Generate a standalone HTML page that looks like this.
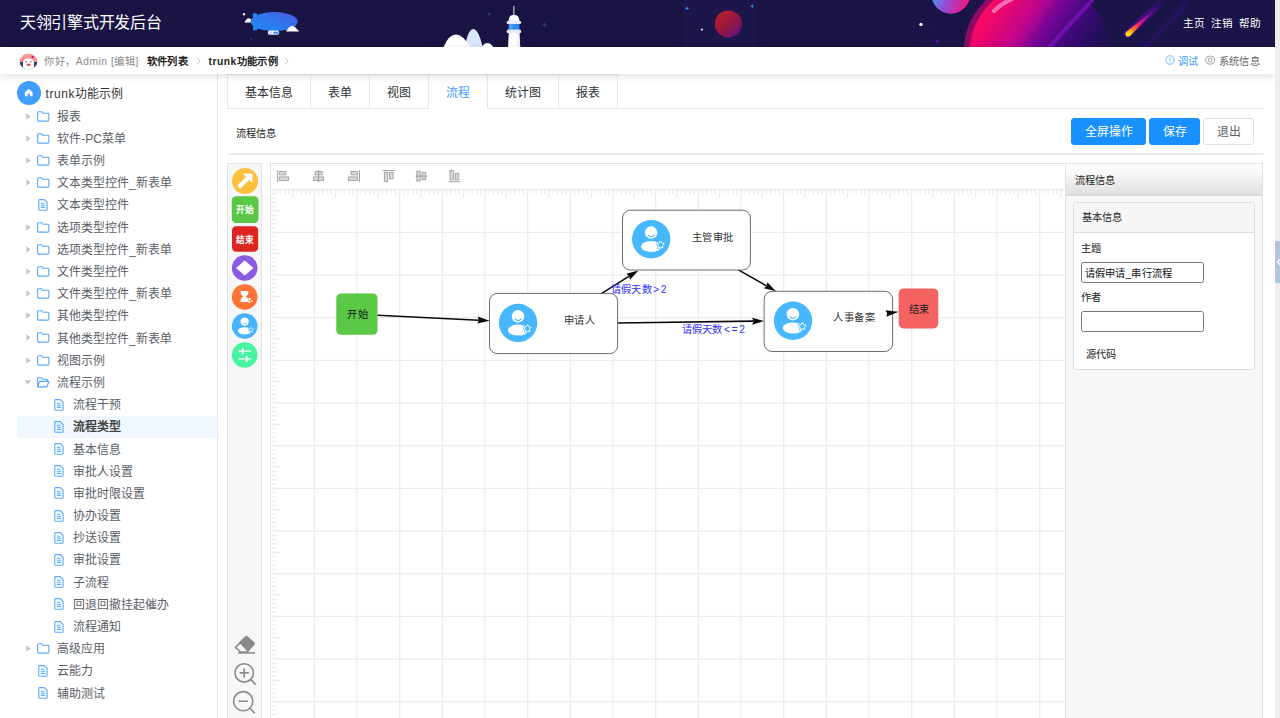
<!DOCTYPE html>
<html lang="zh-CN">
<head>
<meta charset="utf-8">
<title>天翎引擎式开发后台</title>
<style>
*{box-sizing:border-box;margin:0;padding:0}
html,body{width:1280px;height:718px;overflow:hidden;background:#fff;font-family:"Liberation Sans",sans-serif;color:#333}
body{position:relative}
.abs{position:absolute}
/* right scrollbar band */
#band{position:absolute;left:1275px;top:0;width:5px;height:718px;background:#ededed;z-index:50}
#handle{position:absolute;left:1275px;top:241px;width:5px;height:42px;background:#b3c5dc;z-index:51}
/* header */
#hdr{position:absolute;left:0;top:0;width:1275px;height:47px;background:#1a1445;overflow:hidden}
#hdr .title{position:absolute;left:20px;top:0;line-height:45px;font-size:16px;letter-spacing:-0.27px;color:#fff;white-space:nowrap}
#hdr .nav{position:absolute;right:13.8px;top:0;line-height:47.6px;font-size:10.6px;letter-spacing:-0.1px;color:#fff;white-space:nowrap;word-spacing:3.6px}
/* breadcrumb */
#bc{position:absolute;left:0;top:47px;width:1275px;height:27px;background:#fff;box-shadow:0 2px 8px rgba(0,0,0,.13);z-index:5;font-size:10.24px;letter-spacing:0.22px;line-height:27px;white-space:nowrap}
#bc span{position:absolute;top:0.9px}
#bc .g{color:#888}
#bc .b{color:#222;font-weight:bold}
#bc .sep{color:#c0c4cc}
/* sidebar */
#side{position:absolute;left:0;top:74px;width:218px;height:644px;border-right:1px solid #e9e9e9;background:#fff}
.trow{position:absolute;left:0;width:217px;height:22.19px;line-height:22.19px;font-size:11.95px;color:#5a5e66;white-space:nowrap}
.trow .tx{position:absolute;top:0.7px}
.trow svg{position:absolute}
.trow.sel{background:#f0f7ff;left:17px;width:200px;font-weight:bold;color:#444}

.tab{font-size:11.95px;line-height:37.2px;text-align:center;white-space:nowrap}
.btn{top:118px;height:27px;line-height:27.4px;font-size:11.95px;text-align:center;border-radius:3px;white-space:nowrap}
.lab{letter-spacing:0.22px;font-size:10.24px;line-height:20px;color:#222;white-space:nowrap}
.inp{letter-spacing:0.22px;width:123px;height:20.5px;border:1px solid #777;border-radius:2.5px;background:#fff;font-size:10.24px;line-height:21px;padding-left:2.5px;color:#111;white-space:nowrap;overflow:hidden}
svg text{font-family:"Liberation Sans",sans-serif}
</style>
</head>
<body>
<div id="band"></div><div id="handle"><svg class="abs" style="left:0.8px;top:17px" width="5" height="8" viewBox="0 0 5 8"><path d="M4.6 0.8 L1.6 4 L4.6 7.2" fill="none" stroke="#fff" stroke-width="1.2"/></svg></div>
<div id="hdr">
<svg class="abs" style="left:0;top:0" width="1275" height="47" viewBox="0 0 1275 47">
<defs>
<linearGradient id="blimp" x1="0" y1="1" x2="1" y2="0"><stop offset="0" stop-color="#1f8cf8"/><stop offset="0.6" stop-color="#3373ea"/><stop offset="1" stop-color="#4a55e0"/></linearGradient>
<linearGradient id="redp" x1="0.15" y1="0.1" x2="0.85" y2="0.95"><stop offset="0" stop-color="#b91f2e"/><stop offset="0.5" stop-color="#96173f"/><stop offset="1" stop-color="#65137a"/></linearGradient>
<linearGradient id="smallp" x1="0.1" y1="0.4" x2="0.95" y2="0.75"><stop offset="0" stop-color="#4f8ff7"/><stop offset="0.45" stop-color="#9a48cf"/><stop offset="1" stop-color="#f2157f"/></linearGradient>
<linearGradient id="bigp" gradientUnits="userSpaceOnUse" x1="975" y1="0" x2="1080" y2="70"><stop offset="0" stop-color="#ff0a62"/><stop offset="0.2" stop-color="#f00869"/><stop offset="0.45" stop-color="#bc0590"/><stop offset="0.57" stop-color="#7d0598"/><stop offset="0.75" stop-color="#46097e"/><stop offset="0.9" stop-color="#2c0d66"/><stop offset="1" stop-color="#231054"/></linearGradient>
<linearGradient id="met" gradientUnits="userSpaceOnUse" x1="1126" y1="35.5" x2="1157" y2="7"><stop offset="0" stop-color="#fff000"/><stop offset="0.1" stop-color="#ffd400"/><stop offset="0.22" stop-color="#ff7a1a"/><stop offset="0.42" stop-color="#f21a5e"/><stop offset="0.7" stop-color="#8a129a"/><stop offset="1" stop-color="#4a1090"/></linearGradient>
<linearGradient id="met2" gradientUnits="userSpaceOnUse" x1="1127" y1="34" x2="1166" y2="-2"><stop offset="0" stop-color="#4a0c8c"/><stop offset="0.6" stop-color="#3a0f78"/><stop offset="1" stop-color="#2a1260" stop-opacity="0.3"/></linearGradient>
<clipPath id="hc"><rect x="0" y="0" width="1275" height="47"/></clipPath>
</defs>
<g clip-path="url(#hc)">
<!-- subtle lighter block -->
<rect x="683" y="0" width="73" height="47" fill="#1c164a"/>
<rect x="920" y="0" width="355" height="47" fill="#1b1448"/>
<!-- blimp -->
<circle cx="244" cy="14.3" r="1.2" fill="#e8ecf8"/>
<circle cx="251.4" cy="39" r="0.9" fill="#2c3f9a"/>
<path d="M244.5 22.6 Q246.5 18 249 18.2 Q251.5 18.5 252.5 22.6 Z" fill="#fff"/>
<path d="M252.5 13.6 L256.5 13.2 L259 17 L259 26 L256.5 30.4 L252.8 30 L253.8 24.5 L250.4 21.8 L253.8 19 Z" fill="#2488f5"/>
<ellipse cx="274.2" cy="21.5" rx="23.5" ry="9.5" fill="url(#blimp)"/>
<rect x="267.8" y="30.6" width="11.4" height="4.2" rx="1.8" fill="#f2f5ff"/>
<rect x="273.5" y="31.6" width="5" height="2.2" fill="#3d8ef5"/>
<rect x="269.2" y="31.6" width="2.6" height="2.2" fill="#bcd4fb"/>
<path d="M286 31.6 Q289 26 292 26 Q295.5 26.3 297 29.6 Q298.6 30 299 31.6 Z" fill="#fff"/>
<!-- clouds + lighthouse -->
<path d="M465 47 Q468 29 473.2 29 Q478.5 29 482.6 47 Z" fill="#d9e5ff"/>
<path d="M443.5 47 Q449 34.6 456 34.6 Q463 34.8 470 47 Z" fill="#fff"/>
<path d="M481.8 47 Q484.2 43 487.4 43 Q490.8 43.2 493.2 47 Z" fill="#fff"/>
<path d="M489 12.2 L489.6 13.6 L491 14.2 L489.6 14.8 L489 16.2 L488.4 14.8 L487 14.2 L488.4 13.6 Z" fill="#27478f"/>
<path d="M544.5 22 L545.4 23.9 L547.3 24.7 L545.4 25.5 L544.5 27.4 L543.6 25.5 L541.7 24.7 L543.6 23.9 Z" fill="#253f86"/>
<rect x="513.3" y="6" width="1.1" height="9.5" fill="#cfd6ea"/>
<path d="M508.6 21 Q508.8 14.7 513.9 14.7 Q519.2 14.7 519.4 21 Z" fill="#fff"/>
<path d="M508 47 L508.8 33 H519.3 L520.2 47 Z" fill="#fff"/>
<path d="M517 33 H519.3 L520.2 47 H517.6 Z" fill="#eceff7"/>
<rect x="508.8" y="23.5" width="10.6" height="6.4" fill="#2f8cf2"/>
<rect x="508.8" y="23.5" width="4" height="6.4" fill="#4a9cf5"/>
<rect x="506.6" y="20.7" width="14.6" height="3.4" rx="1.7" fill="#e3eafc"/>
<rect x="506.6" y="29.5" width="14.6" height="3.8" rx="1.9" fill="#e3eafc"/>
<!-- mid stars / red planet -->
<path d="M687 6.2 L687.7 7.7 L689.2 8.4 L687.7 9.1 L687 10.6 L686.3 9.1 L684.8 8.4 L686.3 7.7 Z" fill="#2e8ff0"/>
<path d="M752.2 4.2 L752.8 5.6 L754.2 6.2 L752.8 6.8 L752.2 8.2 L751.6 6.8 L750.2 6.2 L751.6 5.6 Z" fill="#2e8ff0"/>
<circle cx="701.9" cy="29.6" r="1.1" fill="#e6e6f0"/>
<circle cx="728.3" cy="23.9" r="13.5" fill="url(#redp)"/>
<!-- right planets -->
<circle cx="921" cy="24.4" r="1.7" fill="#fff"/>
<circle cx="937.6" cy="41.2" r="1.5" fill="#5b0aa6"/>
<circle cx="934.8" cy="27.6" r="1" fill="#3a1078"/>
<circle cx="950.8" cy="-5.6" r="19.3" fill="url(#smallp)"/>
<circle cx="1034.5" cy="51.4" r="70.7" fill="#8f0a63"/>
<circle cx="1040" cy="53" r="70.5" fill="url(#bigp)"/>
<path d="M994 11 Q1002 3 1012 -1" fill="none" stroke="#f46bb4" stroke-width="4.2" stroke-linecap="round"/>
<path d="M1047.5 49 L1094 -2" fill="none" stroke="#7410b4" stroke-width="4.2" opacity="0.9"/>
<!-- meteor -->
<path d="M1144 48 L1186 5" fill="none" stroke="#2a1164" stroke-width="6.5" stroke-linecap="round" opacity="0.75"/>
<path d="M1127.4 34 L1168 -4" fill="none" stroke="url(#met2)" stroke-width="7.6" stroke-linecap="round"/>
<path d="M1125.9 32.2 Q1124.6 35.2 1127 36.4 Q1129.2 37 1130.6 35.4 L1157.5 7 Z" fill="url(#met)"/>
</g>
</svg>

<div class="title">天翎引擎式开发后台</div>
<div class="nav">主页 注销 帮助</div>
</div>
<div id="bc">
<svg class="abs" style="left:19.2px;top:6px" width="19" height="16.9" viewBox="0 0 19 19" preserveAspectRatio="none">
<defs><linearGradient id="avg" x1="0" y1="0" x2="0" y2="1"><stop offset="0" stop-color="#f7a59b"/><stop offset="0.55" stop-color="#f4868c"/><stop offset="0.56" stop-color="#26427a"/><stop offset="1" stop-color="#1e3a6e"/></linearGradient>
<clipPath id="avc"><circle cx="9.5" cy="9.5" r="8.8"/></clipPath></defs>
<circle cx="9.5" cy="9.5" r="8.8" fill="url(#avg)"/>
<g clip-path="url(#avc)">
<path d="M4 19 V11 Q4 6.2 9.5 6.2 Q15 6.2 15 11 V19 Z" fill="#fff"/>
<circle cx="13.6" cy="4.6" r="1.3" fill="#c2185b"/>
<circle cx="7.1" cy="9.9" r="0.8" fill="#e5395a"/><circle cx="11.9" cy="9.9" r="0.8" fill="#e5395a"/>
<path d="M7.2 12.1 H11.8 Q11.8 14.6 9.5 14.6 Q7.2 14.6 7.2 12.1 Z" fill="#ee4d6a"/>
</g>
</svg>
<span class="g" style="left:44.2px;letter-spacing:0.55px">你好，Admin [编辑]</span>
<span class="b" style="left:147px">软件列表</span>
<svg class="abs" style="left:195.5px;top:10.2px" width="5" height="8" viewBox="0 0 5 8"><path d="M0.7 0.6 L4.2 4 L0.7 7.4" fill="none" stroke="#c0c4cc" stroke-width="0.9"/></svg>
<span class="b" style="left:208.5px"><i style="font-style:normal;letter-spacing:0.55px">trunk</i>功能示例</span>
<svg class="abs" style="left:283.5px;top:10.2px" width="5" height="8" viewBox="0 0 5 8"><path d="M0.7 0.6 L4.2 4 L0.7 7.4" fill="none" stroke="#c0c4cc" stroke-width="0.9"/></svg>
<svg class="abs" style="left:1164.5px;top:8.4px" width="10" height="10" viewBox="0 0 10 10"><circle cx="5" cy="5" r="4.2" fill="none" stroke="#66b1ff" stroke-width="0.9"/><path d="M5 2.5 V5.8 M5 6.8 V7.6" stroke="#66b1ff" stroke-width="0.9"/></svg>
<span style="left:1178px;color:#409eff">调试</span>
<svg class="abs" style="left:1205px;top:8.2px" width="10.4" height="10.4" viewBox="0 0 10.4 10.4"><path d="M5.2 0.8 L6.4 1.7 L7.9 1.5 L8.5 2.9 L9.8 3.7 L9.4 5.2 L9.8 6.7 L8.5 7.5 L7.9 8.9 L6.4 8.7 L5.2 9.6 L4 8.7 L2.5 8.9 L1.9 7.5 L0.6 6.7 L1 5.2 L0.6 3.7 L1.9 2.9 L2.5 1.5 L4 1.7 Z" fill="none" stroke="#8a8a8a" stroke-width="0.8"/><circle cx="5.2" cy="5.2" r="1.9" fill="none" stroke="#8a8a8a" stroke-width="0.8"/></svg>
<span style="left:1219px;color:#666">系统信息</span>

</div>
<div id="side">
<div class="abs" style="left:17px;top:7px;width:24px;height:24px;border-radius:50%;background:#409eff"><svg class="abs" style="left:7.3px;top:7.2px" width="9.4" height="9.4" viewBox="0 0 11 11"><path d="M5.5 1.2 L10 5 V9.8 H6.9 V6.8 H4.1 V9.8 H1 V5 Z" fill="#fff"/></svg></div>
<div class="abs" style="left:45.6px;top:8.6px;line-height:22px;font-size:11.95px;color:#333;white-space:nowrap"><i style="font-style:normal;letter-spacing:0.6px">trunk</i>功能示例</div>
<div class="trow" style="top:31.00px"><svg style="left:25.6px;top:7.6px" width="5" height="7" viewBox="0 0 5 7"><path d="M0.3 0.2 L4.6 3.5 L0.3 6.8 Z" fill="#c0c4cc"/></svg><svg style="left:37.3px;top:5.6px" width="12.5" height="11" viewBox="0 0 12.5 11"><path d="M0.6 1.6 Q0.6 0.8 1.4 0.8 H4.6 L5.8 2.3 H11 Q11.8 2.3 11.8 3.1 V9.3 Q11.8 10.1 11 10.1 H1.4 Q0.6 10.1 0.6 9.3 Z" fill="none" stroke="#5aaaff" stroke-width="1.1"/></svg><span class="tx" style="left:57.3px">报表</span></div>
<div class="trow" style="top:53.19px"><svg style="left:25.6px;top:7.6px" width="5" height="7" viewBox="0 0 5 7"><path d="M0.3 0.2 L4.6 3.5 L0.3 6.8 Z" fill="#c0c4cc"/></svg><svg style="left:37.3px;top:5.6px" width="12.5" height="11" viewBox="0 0 12.5 11"><path d="M0.6 1.6 Q0.6 0.8 1.4 0.8 H4.6 L5.8 2.3 H11 Q11.8 2.3 11.8 3.1 V9.3 Q11.8 10.1 11 10.1 H1.4 Q0.6 10.1 0.6 9.3 Z" fill="none" stroke="#5aaaff" stroke-width="1.1"/></svg><span class="tx" style="left:57.3px">软件-PC菜单</span></div>
<div class="trow" style="top:75.38px"><svg style="left:25.6px;top:7.6px" width="5" height="7" viewBox="0 0 5 7"><path d="M0.3 0.2 L4.6 3.5 L0.3 6.8 Z" fill="#c0c4cc"/></svg><svg style="left:37.3px;top:5.6px" width="12.5" height="11" viewBox="0 0 12.5 11"><path d="M0.6 1.6 Q0.6 0.8 1.4 0.8 H4.6 L5.8 2.3 H11 Q11.8 2.3 11.8 3.1 V9.3 Q11.8 10.1 11 10.1 H1.4 Q0.6 10.1 0.6 9.3 Z" fill="none" stroke="#5aaaff" stroke-width="1.1"/></svg><span class="tx" style="left:57.3px">表单示例</span></div>
<div class="trow" style="top:97.57px"><svg style="left:25.6px;top:7.6px" width="5" height="7" viewBox="0 0 5 7"><path d="M0.3 0.2 L4.6 3.5 L0.3 6.8 Z" fill="#c0c4cc"/></svg><svg style="left:37.3px;top:5.6px" width="12.5" height="11" viewBox="0 0 12.5 11"><path d="M0.6 1.6 Q0.6 0.8 1.4 0.8 H4.6 L5.8 2.3 H11 Q11.8 2.3 11.8 3.1 V9.3 Q11.8 10.1 11 10.1 H1.4 Q0.6 10.1 0.6 9.3 Z" fill="none" stroke="#5aaaff" stroke-width="1.1"/></svg><span class="tx" style="left:57.3px">文本类型控件_新表单</span></div>
<div class="trow" style="top:119.76px"><svg style="left:38.4px;top:5.2px" width="10" height="12" viewBox="0 0 10 12"><path d="M1.6 0.6 H6.2 L9.1 3.5 V10.4 Q9.1 11.2 8.3 11.2 H1.6 Q0.8 11.2 0.8 10.4 V1.4 Q0.8 0.6 1.6 0.6 Z" fill="none" stroke="#5aaaff" stroke-width="1.1"/><path d="M2.8 4.2 H6.6 M2.8 6.3 H7.2 M2.8 8.4 H7.2" stroke="#5aaaff" stroke-width="1.1"/></svg><span class="tx" style="left:57.3px">文本类型控件</span></div>
<div class="trow" style="top:141.95px"><svg style="left:25.6px;top:7.6px" width="5" height="7" viewBox="0 0 5 7"><path d="M0.3 0.2 L4.6 3.5 L0.3 6.8 Z" fill="#c0c4cc"/></svg><svg style="left:37.3px;top:5.6px" width="12.5" height="11" viewBox="0 0 12.5 11"><path d="M0.6 1.6 Q0.6 0.8 1.4 0.8 H4.6 L5.8 2.3 H11 Q11.8 2.3 11.8 3.1 V9.3 Q11.8 10.1 11 10.1 H1.4 Q0.6 10.1 0.6 9.3 Z" fill="none" stroke="#5aaaff" stroke-width="1.1"/></svg><span class="tx" style="left:57.3px">选项类型控件</span></div>
<div class="trow" style="top:164.14px"><svg style="left:25.6px;top:7.6px" width="5" height="7" viewBox="0 0 5 7"><path d="M0.3 0.2 L4.6 3.5 L0.3 6.8 Z" fill="#c0c4cc"/></svg><svg style="left:37.3px;top:5.6px" width="12.5" height="11" viewBox="0 0 12.5 11"><path d="M0.6 1.6 Q0.6 0.8 1.4 0.8 H4.6 L5.8 2.3 H11 Q11.8 2.3 11.8 3.1 V9.3 Q11.8 10.1 11 10.1 H1.4 Q0.6 10.1 0.6 9.3 Z" fill="none" stroke="#5aaaff" stroke-width="1.1"/></svg><span class="tx" style="left:57.3px">选项类型控件_新表单</span></div>
<div class="trow" style="top:186.33px"><svg style="left:25.6px;top:7.6px" width="5" height="7" viewBox="0 0 5 7"><path d="M0.3 0.2 L4.6 3.5 L0.3 6.8 Z" fill="#c0c4cc"/></svg><svg style="left:37.3px;top:5.6px" width="12.5" height="11" viewBox="0 0 12.5 11"><path d="M0.6 1.6 Q0.6 0.8 1.4 0.8 H4.6 L5.8 2.3 H11 Q11.8 2.3 11.8 3.1 V9.3 Q11.8 10.1 11 10.1 H1.4 Q0.6 10.1 0.6 9.3 Z" fill="none" stroke="#5aaaff" stroke-width="1.1"/></svg><span class="tx" style="left:57.3px">文件类型控件</span></div>
<div class="trow" style="top:208.52px"><svg style="left:25.6px;top:7.6px" width="5" height="7" viewBox="0 0 5 7"><path d="M0.3 0.2 L4.6 3.5 L0.3 6.8 Z" fill="#c0c4cc"/></svg><svg style="left:37.3px;top:5.6px" width="12.5" height="11" viewBox="0 0 12.5 11"><path d="M0.6 1.6 Q0.6 0.8 1.4 0.8 H4.6 L5.8 2.3 H11 Q11.8 2.3 11.8 3.1 V9.3 Q11.8 10.1 11 10.1 H1.4 Q0.6 10.1 0.6 9.3 Z" fill="none" stroke="#5aaaff" stroke-width="1.1"/></svg><span class="tx" style="left:57.3px">文件类型控件_新表单</span></div>
<div class="trow" style="top:230.71px"><svg style="left:25.6px;top:7.6px" width="5" height="7" viewBox="0 0 5 7"><path d="M0.3 0.2 L4.6 3.5 L0.3 6.8 Z" fill="#c0c4cc"/></svg><svg style="left:37.3px;top:5.6px" width="12.5" height="11" viewBox="0 0 12.5 11"><path d="M0.6 1.6 Q0.6 0.8 1.4 0.8 H4.6 L5.8 2.3 H11 Q11.8 2.3 11.8 3.1 V9.3 Q11.8 10.1 11 10.1 H1.4 Q0.6 10.1 0.6 9.3 Z" fill="none" stroke="#5aaaff" stroke-width="1.1"/></svg><span class="tx" style="left:57.3px">其他类型控件</span></div>
<div class="trow" style="top:252.90px"><svg style="left:25.6px;top:7.6px" width="5" height="7" viewBox="0 0 5 7"><path d="M0.3 0.2 L4.6 3.5 L0.3 6.8 Z" fill="#c0c4cc"/></svg><svg style="left:37.3px;top:5.6px" width="12.5" height="11" viewBox="0 0 12.5 11"><path d="M0.6 1.6 Q0.6 0.8 1.4 0.8 H4.6 L5.8 2.3 H11 Q11.8 2.3 11.8 3.1 V9.3 Q11.8 10.1 11 10.1 H1.4 Q0.6 10.1 0.6 9.3 Z" fill="none" stroke="#5aaaff" stroke-width="1.1"/></svg><span class="tx" style="left:57.3px">其他类型控件_新表单</span></div>
<div class="trow" style="top:275.09px"><svg style="left:25.6px;top:7.6px" width="5" height="7" viewBox="0 0 5 7"><path d="M0.3 0.2 L4.6 3.5 L0.3 6.8 Z" fill="#c0c4cc"/></svg><svg style="left:37.3px;top:5.6px" width="12.5" height="11" viewBox="0 0 12.5 11"><path d="M0.6 1.6 Q0.6 0.8 1.4 0.8 H4.6 L5.8 2.3 H11 Q11.8 2.3 11.8 3.1 V9.3 Q11.8 10.1 11 10.1 H1.4 Q0.6 10.1 0.6 9.3 Z" fill="none" stroke="#5aaaff" stroke-width="1.1"/></svg><span class="tx" style="left:57.3px">视图示例</span></div>
<div class="trow" style="top:297.28px"><svg style="left:23.6px;top:9px" width="7.4" height="5" viewBox="0 0 7.4 5"><path d="M0.2 0.3 L7.2 0.3 L3.7 4.6 Z" fill="#c0c4cc"/></svg><svg style="left:37.3px;top:5.6px" width="12.5" height="11" viewBox="0 0 12.5 11"><path d="M0.6 9.6 V1.6 Q0.6 0.8 1.4 0.8 H4.4 L5.6 2.3 H9.6 Q10.4 2.3 10.4 3.1 V4.3 M0.7 9.9 L2.6 4.4 H11.9 L10 9.9 Z" fill="none" stroke="#4da3ff" stroke-width="1.1" stroke-linejoin="round"/></svg><span class="tx" style="left:57.3px">流程示例</span></div>
<div class="trow" style="top:319.47px"><svg style="left:54.0px;top:5.2px" width="10" height="12" viewBox="0 0 10 12"><path d="M1.6 0.6 H6.2 L9.1 3.5 V10.4 Q9.1 11.2 8.3 11.2 H1.6 Q0.8 11.2 0.8 10.4 V1.4 Q0.8 0.6 1.6 0.6 Z" fill="none" stroke="#5aaaff" stroke-width="1.1"/><path d="M2.8 4.2 H6.6 M2.8 6.3 H7.2 M2.8 8.4 H7.2" stroke="#5aaaff" stroke-width="1.1"/></svg><span class="tx" style="left:73px">流程干预</span></div>
<div class="trow sel" style="top:341.66px"><svg style="left:37.0px;top:5.2px" width="10" height="12" viewBox="0 0 10 12"><path d="M1.6 0.6 H6.2 L9.1 3.5 V10.4 Q9.1 11.2 8.3 11.2 H1.6 Q0.8 11.2 0.8 10.4 V1.4 Q0.8 0.6 1.6 0.6 Z" fill="none" stroke="#5aaaff" stroke-width="1.1"/><path d="M2.8 4.2 H6.6 M2.8 6.3 H7.2 M2.8 8.4 H7.2" stroke="#5aaaff" stroke-width="1.1"/></svg><span class="tx" style="left:56px">流程类型</span></div>
<div class="trow" style="top:363.85px"><svg style="left:54.0px;top:5.2px" width="10" height="12" viewBox="0 0 10 12"><path d="M1.6 0.6 H6.2 L9.1 3.5 V10.4 Q9.1 11.2 8.3 11.2 H1.6 Q0.8 11.2 0.8 10.4 V1.4 Q0.8 0.6 1.6 0.6 Z" fill="none" stroke="#5aaaff" stroke-width="1.1"/><path d="M2.8 4.2 H6.6 M2.8 6.3 H7.2 M2.8 8.4 H7.2" stroke="#5aaaff" stroke-width="1.1"/></svg><span class="tx" style="left:73px">基本信息</span></div>
<div class="trow" style="top:386.04px"><svg style="left:54.0px;top:5.2px" width="10" height="12" viewBox="0 0 10 12"><path d="M1.6 0.6 H6.2 L9.1 3.5 V10.4 Q9.1 11.2 8.3 11.2 H1.6 Q0.8 11.2 0.8 10.4 V1.4 Q0.8 0.6 1.6 0.6 Z" fill="none" stroke="#5aaaff" stroke-width="1.1"/><path d="M2.8 4.2 H6.6 M2.8 6.3 H7.2 M2.8 8.4 H7.2" stroke="#5aaaff" stroke-width="1.1"/></svg><span class="tx" style="left:73px">审批人设置</span></div>
<div class="trow" style="top:408.23px"><svg style="left:54.0px;top:5.2px" width="10" height="12" viewBox="0 0 10 12"><path d="M1.6 0.6 H6.2 L9.1 3.5 V10.4 Q9.1 11.2 8.3 11.2 H1.6 Q0.8 11.2 0.8 10.4 V1.4 Q0.8 0.6 1.6 0.6 Z" fill="none" stroke="#5aaaff" stroke-width="1.1"/><path d="M2.8 4.2 H6.6 M2.8 6.3 H7.2 M2.8 8.4 H7.2" stroke="#5aaaff" stroke-width="1.1"/></svg><span class="tx" style="left:73px">审批时限设置</span></div>
<div class="trow" style="top:430.42px"><svg style="left:54.0px;top:5.2px" width="10" height="12" viewBox="0 0 10 12"><path d="M1.6 0.6 H6.2 L9.1 3.5 V10.4 Q9.1 11.2 8.3 11.2 H1.6 Q0.8 11.2 0.8 10.4 V1.4 Q0.8 0.6 1.6 0.6 Z" fill="none" stroke="#5aaaff" stroke-width="1.1"/><path d="M2.8 4.2 H6.6 M2.8 6.3 H7.2 M2.8 8.4 H7.2" stroke="#5aaaff" stroke-width="1.1"/></svg><span class="tx" style="left:73px">协办设置</span></div>
<div class="trow" style="top:452.61px"><svg style="left:54.0px;top:5.2px" width="10" height="12" viewBox="0 0 10 12"><path d="M1.6 0.6 H6.2 L9.1 3.5 V10.4 Q9.1 11.2 8.3 11.2 H1.6 Q0.8 11.2 0.8 10.4 V1.4 Q0.8 0.6 1.6 0.6 Z" fill="none" stroke="#5aaaff" stroke-width="1.1"/><path d="M2.8 4.2 H6.6 M2.8 6.3 H7.2 M2.8 8.4 H7.2" stroke="#5aaaff" stroke-width="1.1"/></svg><span class="tx" style="left:73px">抄送设置</span></div>
<div class="trow" style="top:474.80px"><svg style="left:54.0px;top:5.2px" width="10" height="12" viewBox="0 0 10 12"><path d="M1.6 0.6 H6.2 L9.1 3.5 V10.4 Q9.1 11.2 8.3 11.2 H1.6 Q0.8 11.2 0.8 10.4 V1.4 Q0.8 0.6 1.6 0.6 Z" fill="none" stroke="#5aaaff" stroke-width="1.1"/><path d="M2.8 4.2 H6.6 M2.8 6.3 H7.2 M2.8 8.4 H7.2" stroke="#5aaaff" stroke-width="1.1"/></svg><span class="tx" style="left:73px">审批设置</span></div>
<div class="trow" style="top:496.99px"><svg style="left:54.0px;top:5.2px" width="10" height="12" viewBox="0 0 10 12"><path d="M1.6 0.6 H6.2 L9.1 3.5 V10.4 Q9.1 11.2 8.3 11.2 H1.6 Q0.8 11.2 0.8 10.4 V1.4 Q0.8 0.6 1.6 0.6 Z" fill="none" stroke="#5aaaff" stroke-width="1.1"/><path d="M2.8 4.2 H6.6 M2.8 6.3 H7.2 M2.8 8.4 H7.2" stroke="#5aaaff" stroke-width="1.1"/></svg><span class="tx" style="left:73px">子流程</span></div>
<div class="trow" style="top:519.18px"><svg style="left:54.0px;top:5.2px" width="10" height="12" viewBox="0 0 10 12"><path d="M1.6 0.6 H6.2 L9.1 3.5 V10.4 Q9.1 11.2 8.3 11.2 H1.6 Q0.8 11.2 0.8 10.4 V1.4 Q0.8 0.6 1.6 0.6 Z" fill="none" stroke="#5aaaff" stroke-width="1.1"/><path d="M2.8 4.2 H6.6 M2.8 6.3 H7.2 M2.8 8.4 H7.2" stroke="#5aaaff" stroke-width="1.1"/></svg><span class="tx" style="left:73px">回退回撤挂起催办</span></div>
<div class="trow" style="top:541.37px"><svg style="left:54.0px;top:5.2px" width="10" height="12" viewBox="0 0 10 12"><path d="M1.6 0.6 H6.2 L9.1 3.5 V10.4 Q9.1 11.2 8.3 11.2 H1.6 Q0.8 11.2 0.8 10.4 V1.4 Q0.8 0.6 1.6 0.6 Z" fill="none" stroke="#5aaaff" stroke-width="1.1"/><path d="M2.8 4.2 H6.6 M2.8 6.3 H7.2 M2.8 8.4 H7.2" stroke="#5aaaff" stroke-width="1.1"/></svg><span class="tx" style="left:73px">流程通知</span></div>
<div class="trow" style="top:563.56px"><svg style="left:25.6px;top:7.6px" width="5" height="7" viewBox="0 0 5 7"><path d="M0.3 0.2 L4.6 3.5 L0.3 6.8 Z" fill="#c0c4cc"/></svg><svg style="left:37.3px;top:5.6px" width="12.5" height="11" viewBox="0 0 12.5 11"><path d="M0.6 1.6 Q0.6 0.8 1.4 0.8 H4.6 L5.8 2.3 H11 Q11.8 2.3 11.8 3.1 V9.3 Q11.8 10.1 11 10.1 H1.4 Q0.6 10.1 0.6 9.3 Z" fill="none" stroke="#5aaaff" stroke-width="1.1"/></svg><span class="tx" style="left:57.3px">高级应用</span></div>
<div class="trow" style="top:585.75px"><svg style="left:38.4px;top:5.2px" width="10" height="12" viewBox="0 0 10 12"><path d="M1.6 0.6 H6.2 L9.1 3.5 V10.4 Q9.1 11.2 8.3 11.2 H1.6 Q0.8 11.2 0.8 10.4 V1.4 Q0.8 0.6 1.6 0.6 Z" fill="none" stroke="#5aaaff" stroke-width="1.1"/><path d="M2.8 4.2 H6.6 M2.8 6.3 H7.2 M2.8 8.4 H7.2" stroke="#5aaaff" stroke-width="1.1"/></svg><span class="tx" style="left:57.3px">云能力</span></div>
<div class="trow" style="top:607.94px"><svg style="left:38.4px;top:5.2px" width="10" height="12" viewBox="0 0 10 12"><path d="M1.6 0.6 H6.2 L9.1 3.5 V10.4 Q9.1 11.2 8.3 11.2 H1.6 Q0.8 11.2 0.8 10.4 V1.4 Q0.8 0.6 1.6 0.6 Z" fill="none" stroke="#5aaaff" stroke-width="1.1"/><path d="M2.8 4.2 H6.6 M2.8 6.3 H7.2 M2.8 8.4 H7.2" stroke="#5aaaff" stroke-width="1.1"/></svg><span class="tx" style="left:57.3px">辅助测试</span></div>

</div>
<div class="abs" style="left:227px;top:108px;width:1036px;height:1px;background:#e6e9ef"></div>
<div class="abs tab" style="left:227px;top:74px;width:84px;height:34px;border:1px solid #e6e9ef;border-bottom:0;color:#303133;background:#fff;">基本信息</div>
<div class="abs tab" style="left:310px;top:74px;width:60px;height:34px;border:1px solid #e6e9ef;border-bottom:0;color:#303133;background:#fff;">表单</div>
<div class="abs tab" style="left:369px;top:74px;width:60px;height:34px;border:1px solid #e6e9ef;border-bottom:0;color:#303133;background:#fff;">视图</div>
<div class="abs tab" style="left:428px;top:74px;width:60px;height:35px;border:1px solid #e6e9ef;border-bottom:0;color:#409eff;background:#fff;">流程</div>
<div class="abs tab" style="left:487px;top:74px;width:72px;height:34px;border:1px solid #e6e9ef;border-bottom:0;color:#303133;background:#fff;">统计图</div>
<div class="abs tab" style="left:558px;top:74px;width:60px;height:34px;border:1px solid #e6e9ef;border-bottom:0;color:#303133;background:#fff;">报表</div>
<div class="abs" style="left:236px;top:123.6px;line-height:20px;font-size:10.24px;color:#222">流程信息</div>
<div class="abs btn" style="left:1071px;width:75px;background:#1890ff;color:#fff;border:1px solid #1890ff">全屏操作</div>
<div class="abs btn" style="left:1149px;width:51px;background:#1890ff;color:#fff;border:1px solid #1890ff">保存</div>
<div class="abs btn" style="left:1203.4px;width:50.8px;background:#fff;color:#606266;border:1px solid #dcdfe6">退出</div>
<div class="abs" style="left:228px;top:153.4px;width:1035px;height:1.5px;background:#ececec"></div>
<div class="abs" style="left:227px;top:163px;width:35px;height:560px;background:#f7f7f8;border:1px solid #dfe2e8"></div>
<svg class="abs" style="left:227px;top:163px" width="35" height="555" viewBox="227 163 35 555"><circle cx="245" cy="181" r="13" fill="#fdbf3c"/><path d="M237.31 185.71 L246.12 176.72 L242.8 173.4 L252.4 173.4 L252.4 183 L249.08 179.68 L240.28 188.68 Z" fill="#fff"/><rect x="231.8" y="196.2" width="26.7" height="26.8" rx="4.2" fill="#5ac845"/><text x="245.1" y="213.2" font-size="8.6" font-weight="bold" fill="#fff" text-anchor="middle">开始</text><rect x="232" y="226.2" width="26.2" height="25.6" rx="4.2" fill="#dc2420"/><text x="245.1" y="242.5" font-size="8.6" font-weight="bold" fill="#fff" text-anchor="middle">结束</text><circle cx="244.7" cy="268" r="12.8" fill="#8a5be2"/><path d="M236 268 L244.7 260.6 L253.4 268 L244.7 275.4 Z" fill="#fff"/><circle cx="244.7" cy="297" r="12.8" fill="#ff7336"/><path d="M240.6 291 H248.4 V292.2 Q248.4 294.6 245.8 296.5 Q248.4 298.4 248.4 300.8 V302 H240.6 V300.8 Q240.6 298.4 243.2 296.5 Q240.6 294.6 240.6 292.2 Z" fill="#fff"/><circle cx="249.6" cy="299" r="1.2" fill="#fff"/><circle cx="251.6" cy="301.2" r="0.9" fill="#fff"/><circle cx="249.2" cy="302" r="0.9" fill="#fff"/><circle cx="244.7" cy="326" r="12.8" fill="#47b3ff"/><circle cx="244.63" cy="321.60" r="4.17" fill="#fff"/><path d="M242.83 323.40 Q244.70 325.33 246.57 323.40" fill="none" stroke="#47b3ff" stroke-width="0.73" stroke-linecap="round"/><ellipse cx="244.77" cy="330.80" rx="6.87" ry="3.67" fill="#fff"/><polygon points="250.90,327.20 251.80,328.56 253.37,329.00 252.36,330.27 252.43,331.90 250.90,331.33 249.37,331.90 249.44,330.27 248.43,329.00 250.00,328.56" fill="#47b3ff" stroke="#47b3ff" stroke-width="1.27" stroke-linejoin="round"/><polygon points="250.90,327.20 251.80,328.56 253.37,329.00 252.36,330.27 252.43,331.90 250.90,331.33 249.37,331.90 249.44,330.27 248.43,329.00 250.00,328.56" fill="#47b3ff" stroke="#fff" stroke-width="0.67" stroke-linejoin="round"/><circle cx="244.7" cy="355" r="12.8" fill="#47f5a0"/><path d="M238.4 351.2 H241.4 M244.4 351.2 H251 M238.4 358.8 H245 M248 358.8 H251" stroke="#fff" stroke-width="1.3"/><rect x="241.6" y="348.3" width="2.2" height="5.8" fill="#fff"/><rect x="245.6" y="355.9" width="2.2" height="5.8" fill="#fff"/><path d="M246.4 636.6 L254.2 643.4 L247 652 H240.6 L235.4 647.4 Z" fill="#f7f7f8" stroke="#8a8a8a" stroke-width="1.5" stroke-linejoin="round"/><path d="M240 642.6 L246.4 636.6 L254.2 643.4 L248 650.9 Z" fill="#8a8a8a" stroke="#8a8a8a" stroke-width="1.5" stroke-linejoin="round"/><path d="M238 652.9 H255" stroke="#8a8a8a" stroke-width="1.6"/><circle cx="244.2" cy="672.9" r="9.2" fill="none" stroke="#8a8a8a" stroke-width="1.6"/><path d="M250.8 679.6 L255.8 684.8 M239.6 672.9 H248.8 M244.2 668.3 V677.5" stroke="#8a8a8a" stroke-width="1.6" fill="none"/><circle cx="243.2" cy="701.2" r="9.6" fill="none" stroke="#8a8a8a" stroke-width="1.6"/><path d="M250 708.2 L254.8 713.2 M238.4 701.2 H248" stroke="#8a8a8a" stroke-width="1.6" fill="none"/></svg>
<div class="abs" style="left:270.4px;top:163px;width:795.6px;height:560px;border:1px solid #dfe2e8;background:#fff"></div>
<svg class="abs" style="left:271px;top:163px" width="794" height="555" viewBox="271 163 794 555"><defs><clipPath id="cv"><rect x="272" y="164" width="792" height="560"/></clipPath></defs><g clip-path="url(#cv)"><path d="M271.7 189.7 H1064 M271.7 189.7 V720" stroke="#e2e4e8" stroke-width="1" fill="none"/><path d="M275.97 189.7 v4.6 M280.23 189.7 v4.6 M284.50 189.7 v4.6 M288.77 189.7 v4.6 M293.03 189.7 v8.6 M297.30 189.7 v4.6 M301.57 189.7 v4.6 M305.83 189.7 v4.6 M310.10 189.7 v4.6 M314.37 189.7 V720 M318.63 189.7 v4.6 M322.90 189.7 v4.6 M327.17 189.7 v4.6 M331.43 189.7 v4.6 M335.70 189.7 v8.6 M339.97 189.7 v4.6 M344.23 189.7 v4.6 M348.50 189.7 v4.6 M352.77 189.7 v4.6 M357.03 189.7 V720 M361.30 189.7 v4.6 M365.57 189.7 v4.6 M369.83 189.7 v4.6 M374.10 189.7 v4.6 M378.37 189.7 v8.6 M382.63 189.7 v4.6 M386.90 189.7 v4.6 M391.17 189.7 v4.6 M395.43 189.7 v4.6 M399.70 189.7 V720 M403.97 189.7 v4.6 M408.23 189.7 v4.6 M412.50 189.7 v4.6 M416.77 189.7 v4.6 M421.03 189.7 v8.6 M425.30 189.7 v4.6 M429.57 189.7 v4.6 M433.83 189.7 v4.6 M438.10 189.7 v4.6 M442.37 189.7 V720 M446.63 189.7 v4.6 M450.90 189.7 v4.6 M455.17 189.7 v4.6 M459.43 189.7 v4.6 M463.70 189.7 v8.6 M467.97 189.7 v4.6 M472.23 189.7 v4.6 M476.50 189.7 v4.6 M480.77 189.7 v4.6 M485.04 189.7 V720 M489.30 189.7 v4.6 M493.57 189.7 v4.6 M497.84 189.7 v4.6 M502.10 189.7 v4.6 M506.37 189.7 v8.6 M510.64 189.7 v4.6 M514.90 189.7 v4.6 M519.17 189.7 v4.6 M523.44 189.7 v4.6 M527.70 189.7 V720 M531.97 189.7 v4.6 M536.24 189.7 v4.6 M540.50 189.7 v4.6 M544.77 189.7 v4.6 M549.04 189.7 v8.6 M553.30 189.7 v4.6 M557.57 189.7 v4.6 M561.84 189.7 v4.6 M566.10 189.7 v4.6 M570.37 189.7 V720 M574.64 189.7 v4.6 M578.90 189.7 v4.6 M583.17 189.7 v4.6 M587.44 189.7 v4.6 M591.70 189.7 v8.6 M595.97 189.7 v4.6 M600.24 189.7 v4.6 M604.50 189.7 v4.6 M608.77 189.7 v4.6 M613.04 189.7 V720 M617.30 189.7 v4.6 M621.57 189.7 v4.6 M625.84 189.7 v4.6 M630.10 189.7 v4.6 M634.37 189.7 v8.6 M638.64 189.7 v4.6 M642.90 189.7 v4.6 M647.17 189.7 v4.6 M651.44 189.7 v4.6 M655.70 189.7 V720 M659.97 189.7 v4.6 M664.24 189.7 v4.6 M668.50 189.7 v4.6 M672.77 189.7 v4.6 M677.04 189.7 v8.6 M681.30 189.7 v4.6 M685.57 189.7 v4.6 M689.84 189.7 v4.6 M694.10 189.7 v4.6 M698.37 189.7 V720 M702.64 189.7 v4.6 M706.90 189.7 v4.6 M711.17 189.7 v4.6 M715.44 189.7 v4.6 M719.70 189.7 v8.6 M723.97 189.7 v4.6 M728.24 189.7 v4.6 M732.50 189.7 v4.6 M736.77 189.7 v4.6 M741.04 189.7 V720 M745.30 189.7 v4.6 M749.57 189.7 v4.6 M753.84 189.7 v4.6 M758.10 189.7 v4.6 M762.37 189.7 v8.6 M766.64 189.7 v4.6 M770.90 189.7 v4.6 M775.17 189.7 v4.6 M779.44 189.7 v4.6 M783.70 189.7 V720 M787.97 189.7 v4.6 M792.24 189.7 v4.6 M796.50 189.7 v4.6 M800.77 189.7 v4.6 M805.04 189.7 v8.6 M809.30 189.7 v4.6 M813.57 189.7 v4.6 M817.84 189.7 v4.6 M822.10 189.7 v4.6 M826.37 189.7 V720 M830.64 189.7 v4.6 M834.90 189.7 v4.6 M839.17 189.7 v4.6 M843.44 189.7 v4.6 M847.70 189.7 v8.6 M851.97 189.7 v4.6 M856.24 189.7 v4.6 M860.50 189.7 v4.6 M864.77 189.7 v4.6 M869.04 189.7 V720 M873.30 189.7 v4.6 M877.57 189.7 v4.6 M881.84 189.7 v4.6 M886.10 189.7 v4.6 M890.37 189.7 v8.6 M894.64 189.7 v4.6 M898.90 189.7 v4.6 M903.17 189.7 v4.6 M907.44 189.7 v4.6 M911.71 189.7 V720 M915.97 189.7 v4.6 M920.24 189.7 v4.6 M924.51 189.7 v4.6 M928.77 189.7 v4.6 M933.04 189.7 v8.6 M937.31 189.7 v4.6 M941.57 189.7 v4.6 M945.84 189.7 v4.6 M950.11 189.7 v4.6 M954.37 189.7 V720 M958.64 189.7 v4.6 M962.91 189.7 v4.6 M967.17 189.7 v4.6 M971.44 189.7 v4.6 M975.71 189.7 v8.6 M979.97 189.7 v4.6 M984.24 189.7 v4.6 M988.51 189.7 v4.6 M992.77 189.7 v4.6 M997.04 189.7 V720 M1001.31 189.7 v4.6 M1005.57 189.7 v4.6 M1009.84 189.7 v4.6 M1014.11 189.7 v4.6 M1018.37 189.7 v8.6 M1022.64 189.7 v4.6 M1026.91 189.7 v4.6 M1031.17 189.7 v4.6 M1035.44 189.7 v4.6 M1039.71 189.7 V720 M1043.97 189.7 v4.6 M1048.24 189.7 v4.6 M1052.51 189.7 v4.6 M1056.77 189.7 v4.6 M1061.04 189.7 v8.6 M271.7 193.97 h4.6 M271.7 198.23 h4.6 M271.7 202.50 h4.6 M271.7 206.77 h4.6 M271.7 211.03 h8.6 M271.7 215.30 h4.6 M271.7 219.57 h4.6 M271.7 223.83 h4.6 M271.7 228.10 h4.6 M271.7 232.37 H1064 M271.7 236.63 h4.6 M271.7 240.90 h4.6 M271.7 245.17 h4.6 M271.7 249.43 h4.6 M271.7 253.70 h8.6 M271.7 257.97 h4.6 M271.7 262.23 h4.6 M271.7 266.50 h4.6 M271.7 270.77 h4.6 M271.7 275.03 H1064 M271.7 279.30 h4.6 M271.7 283.57 h4.6 M271.7 287.83 h4.6 M271.7 292.10 h4.6 M271.7 296.37 h8.6 M271.7 300.63 h4.6 M271.7 304.90 h4.6 M271.7 309.17 h4.6 M271.7 313.43 h4.6 M271.7 317.70 H1064 M271.7 321.97 h4.6 M271.7 326.23 h4.6 M271.7 330.50 h4.6 M271.7 334.77 h4.6 M271.7 339.03 h8.6 M271.7 343.30 h4.6 M271.7 347.57 h4.6 M271.7 351.83 h4.6 M271.7 356.10 h4.6 M271.7 360.37 H1064 M271.7 364.63 h4.6 M271.7 368.90 h4.6 M271.7 373.17 h4.6 M271.7 377.43 h4.6 M271.7 381.70 h8.6 M271.7 385.97 h4.6 M271.7 390.23 h4.6 M271.7 394.50 h4.6 M271.7 398.77 h4.6 M271.7 403.04 H1064 M271.7 407.30 h4.6 M271.7 411.57 h4.6 M271.7 415.84 h4.6 M271.7 420.10 h4.6 M271.7 424.37 h8.6 M271.7 428.64 h4.6 M271.7 432.90 h4.6 M271.7 437.17 h4.6 M271.7 441.44 h4.6 M271.7 445.70 H1064 M271.7 449.97 h4.6 M271.7 454.24 h4.6 M271.7 458.50 h4.6 M271.7 462.77 h4.6 M271.7 467.04 h8.6 M271.7 471.30 h4.6 M271.7 475.57 h4.6 M271.7 479.84 h4.6 M271.7 484.10 h4.6 M271.7 488.37 H1064 M271.7 492.64 h4.6 M271.7 496.90 h4.6 M271.7 501.17 h4.6 M271.7 505.44 h4.6 M271.7 509.70 h8.6 M271.7 513.97 h4.6 M271.7 518.24 h4.6 M271.7 522.50 h4.6 M271.7 526.77 h4.6 M271.7 531.04 H1064 M271.7 535.30 h4.6 M271.7 539.57 h4.6 M271.7 543.84 h4.6 M271.7 548.10 h4.6 M271.7 552.37 h8.6 M271.7 556.64 h4.6 M271.7 560.90 h4.6 M271.7 565.17 h4.6 M271.7 569.44 h4.6 M271.7 573.70 H1064 M271.7 577.97 h4.6 M271.7 582.24 h4.6 M271.7 586.50 h4.6 M271.7 590.77 h4.6 M271.7 595.04 h8.6 M271.7 599.30 h4.6 M271.7 603.57 h4.6 M271.7 607.84 h4.6 M271.7 612.10 h4.6 M271.7 616.37 H1064 M271.7 620.64 h4.6 M271.7 624.90 h4.6 M271.7 629.17 h4.6 M271.7 633.44 h4.6 M271.7 637.70 h8.6 M271.7 641.97 h4.6 M271.7 646.24 h4.6 M271.7 650.50 h4.6 M271.7 654.77 h4.6 M271.7 659.04 H1064 M271.7 663.30 h4.6 M271.7 667.57 h4.6 M271.7 671.84 h4.6 M271.7 676.10 h4.6 M271.7 680.37 h8.6 M271.7 684.64 h4.6 M271.7 688.90 h4.6 M271.7 693.17 h4.6 M271.7 697.44 h4.6 M271.7 701.70 H1064 M271.7 705.97 h4.6 M271.7 710.24 h4.6 M271.7 714.50 h4.6 M271.7 718.77 h4.6 M271.7 723.04 h8.6 M271.7 727.30 h4.6 M271.7 731.57 h4.6 M271.7 735.84 h4.6 M271.7 740.10 h4.6" stroke="#e7e7e7" stroke-width="0.95" fill="none"/><path d="M277.4 170.1 V182.1" stroke="#999" stroke-width="0.9"/><rect x="279.2" y="171.5" width="6.6" height="3.4" fill="#d8d8d8" stroke="#999" stroke-width="0.8"/><rect x="279.2" y="176.9" width="9.4" height="3.6" fill="#d8d8d8" stroke="#999" stroke-width="0.8"/><rect x="315.0" y="171.5" width="7.2" height="3.4" fill="#d8d8d8" stroke="#999" stroke-width="0.8"/><rect x="313.6" y="176.9" width="10" height="3.6" fill="#d8d8d8" stroke="#999" stroke-width="0.8"/><path d="M318.6 170.1 V182.1" stroke="#999" stroke-width="0.9"/><path d="M359.5 170.1 V182.1" stroke="#999" stroke-width="0.9"/><rect x="351.09999999999997" y="171.5" width="6.6" height="3.4" fill="#d8d8d8" stroke="#999" stroke-width="0.8"/><rect x="348.29999999999995" y="176.9" width="9.4" height="3.6" fill="#d8d8d8" stroke="#999" stroke-width="0.8"/><path d="M382.7 170.5 H394.7" stroke="#999" stroke-width="0.9"/><rect x="384.3" y="172.29999999999998" width="3.4" height="9.4" fill="#d8d8d8" stroke="#999" stroke-width="0.8"/><rect x="389.5" y="172.29999999999998" width="3.6" height="6.6" fill="#d8d8d8" stroke="#999" stroke-width="0.8"/><rect x="416.79999999999995" y="171.1" width="3.4" height="10" fill="#d8d8d8" stroke="#999" stroke-width="0.8"/><rect x="422.2" y="172.5" width="3.6" height="7.2" fill="#d8d8d8" stroke="#999" stroke-width="0.8"/><path d="M415.4 176.1 H427.4" stroke="#999" stroke-width="0.9"/><path d="M448.4 181.7 H460.4" stroke="#999" stroke-width="0.9"/><rect x="450.0" y="170.5" width="3.4" height="9.4" fill="#d8d8d8" stroke="#999" stroke-width="0.8"/><rect x="455.2" y="173.29999999999998" width="3.6" height="6.6" fill="#d8d8d8" stroke="#999" stroke-width="0.8"/><path d="M377.50 315.20 L478.81 320.17" stroke="#0a0a0a" stroke-width="1.55" fill="none"/><path d="M489.60 320.70 L477.44 323.61 L478.81 320.17 L477.79 316.62 Z" fill="#0a0a0a"/><path d="M601.00 293.80 L629.23 276.21" stroke="#0a0a0a" stroke-width="1.55" fill="none"/><path d="M638.40 270.50 L630.07 279.82 L629.23 276.21 L626.36 273.87 Z" fill="#0a0a0a"/><path d="M738.40 269.90 L766.60 285.88" stroke="#0a0a0a" stroke-width="1.55" fill="none"/><path d="M776.00 291.20 L763.83 288.33 L766.60 285.88 L767.28 282.24 Z" fill="#0a0a0a"/><path d="M617.60 322.90 L753.40 321.14" stroke="#0a0a0a" stroke-width="1.55" fill="none"/><path d="M764.20 321.00 L752.25 324.66 L753.40 321.14 L752.16 317.66 Z" fill="#0a0a0a"/><rect x="336.3" y="293.5" width="41.2" height="41.2" rx="4.5" fill="#5ac845"/><text x="357.5" y="318.2" font-size="10.24" letter-spacing="0.5" fill="#111" text-anchor="middle">开始</text><rect x="489.5" y="293.4" width="128.1" height="60.2" rx="7.8" fill="#fff" stroke="#5a5a5a" stroke-width="0.9"/><circle cx="518.1" cy="322.9" r="19.2" fill="#47b8ff"/><circle cx="518.00" cy="316.30" r="6.25" fill="#fff"/><path d="M515.30 319.00 Q518.10 321.90 520.90 319.00" fill="none" stroke="#47b8ff" stroke-width="1.10" stroke-linecap="round"/><ellipse cx="518.20" cy="330.10" rx="10.30" ry="5.50" fill="#fff"/><polygon points="527.40,324.70 528.75,326.74 531.11,327.39 529.59,329.31 529.69,331.76 527.40,330.90 525.11,331.76 525.21,329.31 523.69,327.39 526.05,326.74" fill="#47b8ff" stroke="#47b8ff" stroke-width="1.90" stroke-linejoin="round"/><polygon points="527.40,324.70 528.75,326.74 531.11,327.39 529.59,329.31 529.69,331.76 527.40,330.90 525.11,331.76 525.21,329.31 523.69,327.39 526.05,326.74" fill="#47b8ff" stroke="#fff" stroke-width="1.00" stroke-linejoin="round"/><text x="579.5" y="324.3" font-size="10.24" letter-spacing="0.55" fill="#333" text-anchor="middle">申请人</text><rect x="622.5" y="210.2" width="127.9" height="59.8" rx="7.8" fill="#fff" stroke="#5a5a5a" stroke-width="0.9"/><circle cx="651.2" cy="239.2" r="19.2" fill="#47b8ff"/><circle cx="651.10" cy="232.60" r="6.25" fill="#fff"/><path d="M648.40 235.30 Q651.20 238.20 654.00 235.30" fill="none" stroke="#47b8ff" stroke-width="1.10" stroke-linecap="round"/><ellipse cx="651.30" cy="246.40" rx="10.30" ry="5.50" fill="#fff"/><polygon points="660.50,241.00 661.85,243.04 664.21,243.69 662.69,245.61 662.79,248.06 660.50,247.20 658.21,248.06 658.31,245.61 656.79,243.69 659.15,243.04" fill="#47b8ff" stroke="#47b8ff" stroke-width="1.90" stroke-linejoin="round"/><polygon points="660.50,241.00 661.85,243.04 664.21,243.69 662.69,245.61 662.79,248.06 660.50,247.20 658.21,248.06 658.31,245.61 656.79,243.69 659.15,243.04" fill="#47b8ff" stroke="#fff" stroke-width="1.00" stroke-linejoin="round"/><text x="712.8" y="240.6" font-size="10.24" letter-spacing="0.55" fill="#333" text-anchor="middle">主管审批</text><rect x="764.2" y="291.3" width="128.4" height="60.2" rx="7.8" fill="#fff" stroke="#5a5a5a" stroke-width="0.9"/><circle cx="793" cy="320.8" r="19.2" fill="#47b8ff"/><circle cx="792.90" cy="314.20" r="6.25" fill="#fff"/><path d="M790.20 316.90 Q793.00 319.80 795.80 316.90" fill="none" stroke="#47b8ff" stroke-width="1.10" stroke-linecap="round"/><ellipse cx="793.10" cy="328.00" rx="10.30" ry="5.50" fill="#fff"/><polygon points="802.30,322.60 803.65,324.64 806.01,325.29 804.49,327.21 804.59,329.66 802.30,328.80 800.01,329.66 800.11,327.21 798.59,325.29 800.95,324.64" fill="#47b8ff" stroke="#47b8ff" stroke-width="1.90" stroke-linejoin="round"/><polygon points="802.30,322.60 803.65,324.64 806.01,325.29 804.49,327.21 804.59,329.66 802.30,328.80 800.01,329.66 800.11,327.21 798.59,325.29 800.95,324.64" fill="#47b8ff" stroke="#fff" stroke-width="1.00" stroke-linejoin="round"/><text x="854.0999999999999" y="321.4" font-size="10.24" letter-spacing="0.55" fill="#333" text-anchor="middle">人事备案</text><path d="M898.70 311.75 L886.36 316.76 L887.20 313.32 L885.47 310.22 Z" fill="#0a0a0a"/><rect x="898.7" y="288.4" width="39.6" height="40" rx="4.8" fill="#f56262"/><text x="919" y="312.5" font-size="10.24" letter-spacing="0.5" fill="#222" text-anchor="middle">结束</text><text x="638.9" y="293" font-size="10.24" letter-spacing="0.1" fill="#3333ff" text-anchor="middle">请假天数<tspan dx="1.3">&gt;</tspan><tspan dx="1.6">2</tspan></text><text x="713.4" y="333.2" font-size="10.24" letter-spacing="0.3" fill="#3333ff" text-anchor="middle">请假天数<tspan dx="1.2">&lt;</tspan><tspan dx="1.4">=</tspan><tspan dx="1.4">2</tspan></text></g></svg>
<div class="abs" style="left:1065px;top:163px;width:198px;height:560px;background:#f7f7f7;border:1px solid #dfe2e8"></div>
<div class="abs" style="left:1066px;top:164px;width:196px;height:31.5px;background:linear-gradient(#fdfdfd,#f4f4f4 45%,#dedede);border-bottom:1px solid #d4d4d4;font-size:10.24px;line-height:33.6px;padding-left:8.5px;color:#222">流程信息</div>
<div class="abs" style="left:1073px;top:202px;width:182.3px;height:167.6px;background:#fff;border:1px solid #ddd;border-radius:3px;overflow:hidden"><div style="height:29.8px;background:#f5f5f5;border-bottom:1px solid #ddd;font-size:10.24px;line-height:30px;padding-left:7.5px;color:#222">基本信息</div></div>
<div class="abs lab" style="left:1081px;top:238.7px">主题</div>
<div class="abs inp" style="left:1081px;top:262px">请假申请_串行流程</div>
<div class="abs lab" style="left:1081px;top:288px">作者</div>
<div class="abs inp" style="left:1081px;top:311px"></div>
<div class="abs lab" style="left:1086px;top:345.2px">源代码</div>

</body>
</html>
